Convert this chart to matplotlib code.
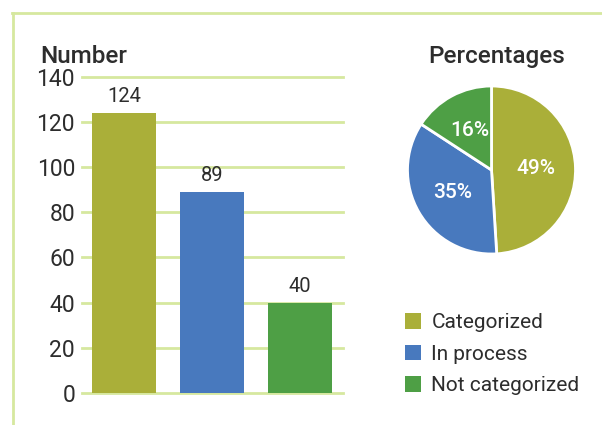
import matplotlib
matplotlib.use("Agg")
import matplotlib.pyplot as plt
from matplotlib.patches import Patch
from matplotlib.lines import Line2D

plt.rcParams['font.family'] = ['Roboto', 'DejaVu Sans']

# data
categories = ['Categorized', 'In process', 'Not categorized']
counts = [124, 89, 40]
colors = ['#aaaf39', '#4879be', '#4e9f45']
yticks = [0, 20, 40, 60, 80, 100, 120, 140]

frame_col = '#d6e89f'
text_col = '#2d2d2d'

fig = plt.figure(figsize=(6.02, 4.25), dpi=100)

# light green frame on top and left
fig.add_artist(Line2D([12 / 602, 1], [1 - 13 / 425] * 2, color=frame_col, lw=2, transform=fig.transFigure))
fig.add_artist(Line2D([12.5 / 602] * 2, [0, 1 - 13 / 425], color=frame_col, lw=2, transform=fig.transFigure))

# bar chart
ax = fig.add_axes([82 / 602, (425 - 392.7) / 425, 261 / 602, 315.7 / 425])
x = range(len(counts))
bars = ax.bar(x, counts, width=0.727, color=colors, zorder=3)
for b, v in zip(bars, counts):
    ax.text(b.get_x() + b.get_width() / 2, v + 3, str(v), ha='center', va='bottom',
            fontsize=14.5, color=text_col)
ax.set_xlim(-0.477, 2.494)
ax.set_ylim(0, 140)
ax.set_yticks(yticks)
ax.set_xticks([])
ax.yaxis.grid(True, color=frame_col, lw=2, zorder=0)
ax.tick_params(axis='y', length=0, pad=5, labelsize=16.5, labelcolor=text_col)
for s in ax.spines.values():
    s.set_visible(False)
for gl in ax.get_ygridlines():
    gl.set_clip_on(False)

fig.text(40 / 602, 1 - 63 / 425, 'Number', fontsize=17.5, fontweight='medium',
         color=text_col, ha='left', va='baseline')

# pie chart
pax = fig.add_axes([(491.5 - 88.2) / 602, (425 - 170 - 88.2) / 425, 176.4 / 602, 176.4 / 425])
wedges, texts, autotexts = pax.pie(
    counts, colors=colors, startangle=90, counterclock=False,
    autopct=lambda p: '%d%%' % round(p), pctdistance=0.53,
    wedgeprops=dict(edgecolor='white', linewidth=2),
    textprops=dict(color='white', fontsize=15, fontweight='medium'))
pax.set_xlim(-1.05, 1.05)
pax.set_ylim(-1.05, 1.05)
pax.set_aspect('equal')

fig.text(496.5 / 602, 1 - 63 / 425, 'Percentages', fontsize=17.5, fontweight='medium',
         color=text_col, ha='center', va='baseline')

# legend
handles = [Patch(facecolor=c, edgecolor='none') for c in colors]
fig.legend(handles, categories, loc='upper left', bbox_to_anchor=(405 / 602, 1 - 313 / 425),
           frameon=False, fontsize=15, handlelength=0.77, handleheight=0.77,
           handletextpad=0.5, labelspacing=0.6, borderpad=0, borderaxespad=0,
           labelcolor=text_col)

fig.savefig('out.png', dpi=100)
